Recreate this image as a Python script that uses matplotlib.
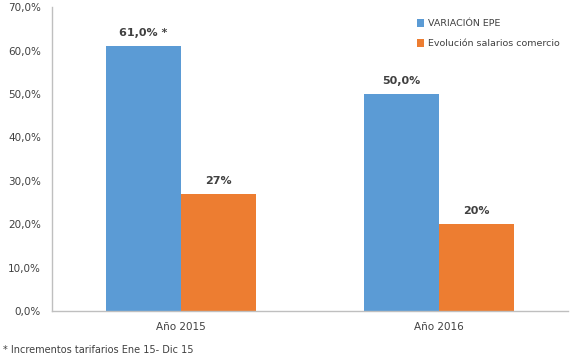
import numpy as np
import matplotlib.pyplot as plt

categories = ['Año 2015', 'Año 2016']
epe = [61.0, 50.0]
salarios = [27.0, 20.0]
epe_labels = ['61,0% *', '50,0%']
sal_labels = ['27%', '20%']
series_names = ['VARIACIÓN EPE', 'Evolución salarios comercio']
yticks = [0, 10, 20, 30, 40, 50, 60, 70]

blue = '#5B9BD5'
orange = '#ED7D31'
grey_txt = '#404040'

fig = plt.figure(figsize=(5.8, 3.56), dpi=100)
ax = fig.add_axes([0.0897, 0.126, 0.89, 0.854])

x = np.arange(len(categories))
w = 0.29
b1 = ax.bar(x - w/2, epe, w, color=blue, label=series_names[0])
b2 = ax.bar(x + w/2, salarios, w, color=orange, label=series_names[1])

for rect, lab in zip(b1, epe_labels):
    ax.text(rect.get_x() + rect.get_width()/2, rect.get_height() + 1.8, lab,
            ha='center', va='bottom', fontsize=8, fontweight='bold', color=grey_txt)
for rect, lab in zip(b2, sal_labels):
    ax.text(rect.get_x() + rect.get_width()/2, rect.get_height() + 1.8, lab,
            ha='center', va='bottom', fontsize=8, fontweight='bold', color=grey_txt)

ax.set_xlim(-0.5, 1.5)
ax.set_ylim(0, 70)
ax.set_yticks(yticks)
ax.set_yticklabels(['%d,0%%' % t for t in yticks])
ax.set_xticks(x)
ax.set_xticklabels(categories)
ax.tick_params(axis='both', length=0, labelsize=7.5, labelcolor=grey_txt)
ax.tick_params(axis='x', pad=8)
ax.tick_params(axis='y', pad=8)

for s in ['top', 'right']:
    ax.spines[s].set_visible(False)
for s in ['left', 'bottom']:
    ax.spines[s].set_color('#BFBFBF')
    ax.spines[s].set_linewidth(1)

ax.legend(loc='upper right', bbox_to_anchor=(1.0, 0.99), frameon=False, fontsize=6.8,
          handlelength=0.75, handleheight=1.0, handletextpad=0.4, labelspacing=1.1,
          labelcolor=grey_txt)

fig.text(0.005, 0.008, '* Incrementos tarifarios Ene 15- Dic 15', fontsize=7, color=grey_txt)

fig.savefig('out.png', dpi=100)
